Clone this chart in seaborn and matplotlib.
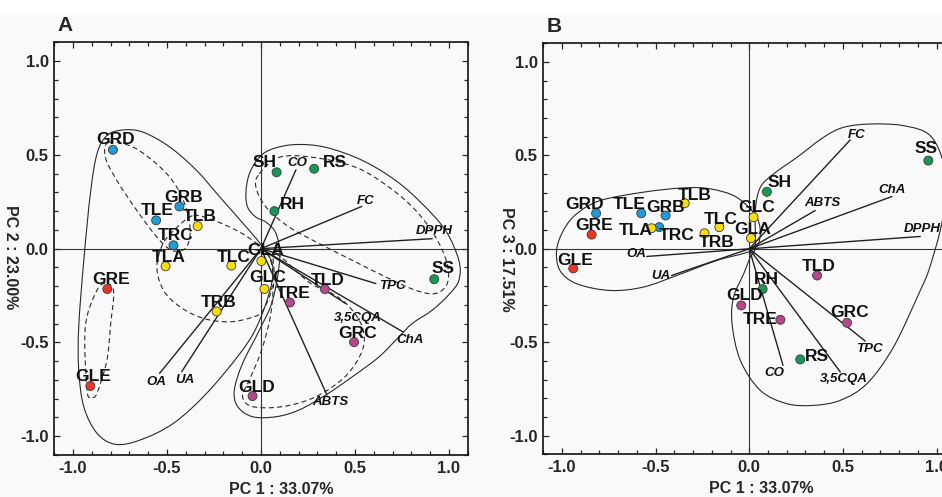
import numpy as np
import pandas as pd
import matplotlib
matplotlib.use('Agg')
import matplotlib.pyplot as plt
import seaborn as sns
from matplotlib.path import Path
from matplotlib.patches import PathPatch, Rectangle
from matplotlib.ticker import MultipleLocator

# ---------------------------------------------
# data
# ---------------------------------------------
samples = ['GRD', 'GRB', 'TLE', 'TLB', 'TRC', 'TLA', 'TLC', 'GLA', 'GRE', 'GLC',
           'TLD', 'TRE', 'TRB', 'GRC', 'GLE', 'GLD', 'SH', 'RS', 'RH', 'SS']
cluster = ['blue', 'blue', 'blue', 'yellow', 'blue', 'yellow', 'yellow', 'yellow', 'red', 'yellow',
           'purple', 'purple', 'yellow', 'purple', 'red', 'purple', 'green', 'green', 'green', 'green']

# panel A : PC1 vs PC2
pc1_a = [-0.788, -0.434, -0.558, -0.337, -0.466, -0.508, -0.158, 0.002, -0.818, 0.018,
         0.340, 0.154, -0.236, 0.495, -0.908, -0.045, 0.083, 0.283, 0.071, 0.922]
pc2_a = [0.527, 0.225, 0.151, 0.120, 0.018, -0.094, -0.090, -0.066, -0.215, -0.215,
         -0.216, -0.287, -0.335, -0.498, -0.732, -0.786, 0.407, 0.426, 0.200, -0.163]

# panel B : PC1 vs PC3
pc1_b = [-0.818, -0.447, -0.577, -0.345, -0.481, -0.522, -0.160, 0.009, -0.842, 0.023,
         0.362, 0.166, -0.239, 0.522, -0.940, -0.043, 0.094, 0.272, 0.071, 0.956]
pc3_b = [0.190, 0.178, 0.190, 0.244, 0.116, 0.110, 0.116, 0.057, 0.076, 0.169,
         -0.143, -0.380, 0.083, -0.396, -0.105, -0.303, 0.305, -0.592, -0.216, 0.472]

# variable loadings
variables = ['CO', 'FC', 'DPPH', 'TPC', '3,5CQA', 'ChA', 'ABTS', 'OA', 'UA']
load1_a = [0.186, 0.536, 0.911, 0.611, 0.451, 0.756, 0.351, -0.540, -0.422]
load2_a = [0.420, 0.225, 0.053, -0.186, -0.293, -0.444, -0.780, -0.665, -0.656]
load1_b = [0.180, 0.539, 0.913, 0.619, 0.486, 0.762, 0.352, -0.548, -0.415]
load3_b = [-0.624, 0.583, 0.066, -0.494, -0.660, 0.280, 0.205, -0.041, -0.143]

# cluster outlines (control points of the hand drawn envelopes)
a_outer_left_x = [-0.731, -0.625, -0.483, -0.342, -0.218, -0.094, -0.005, 0.06, 0.05, -0.023, -0.112,
                  -0.289, -0.466, -0.643, -0.775, -0.873, -0.943, -0.970, -0.970, -0.943, -0.908, -0.873, -0.820]
a_outer_left_y = [0.633, 0.620, 0.540, 0.416, 0.274, 0.133, 0.027, -0.08, -0.215, -0.417, -0.559,
                  -0.771, -0.931, -1.020, -1.043, -0.984, -0.843, -0.647, -0.417, -0.062, 0.293, 0.505, 0.603]
a_outer_right_x = [0.10, 0.08, 0.027, -0.027, -0.071, -0.080, -0.062, -0.009, 0.062, 0.186, 0.345, 0.540,
                   0.717, 0.858, 0.982, 1.053, 1.053, 1.0, 0.911, 0.805, 0.734, 0.628, 0.486, 0.345,
                   0.203, 0.080, -0.045, -0.124, -0.142, -0.098, -0.009, 0.062]
a_outer_right_y = [-0.05, 0.08, 0.141, 0.168, 0.221, 0.300, 0.399, 0.487, 0.532, 0.555, 0.540, 0.470,
                   0.363, 0.239, 0.097, -0.062, -0.169, -0.245, -0.328, -0.399, -0.470, -0.577, -0.683, -0.780,
                   -0.860, -0.896, -0.896, -0.842, -0.754, -0.612, -0.435, -0.275]
a_dash_blue_x = [-0.811, -0.678, -0.536, -0.448, -0.395, -0.377, -0.404, -0.475, -0.554, -0.661, -0.767, -0.828]
a_dash_blue_y = [0.567, 0.540, 0.434, 0.328, 0.204, 0.080, 0.0, -0.009, 0.062, 0.204, 0.363, 0.487]
a_dash_yellow_x = [-0.358, -0.253, -0.130, -0.023, 0.05, 0.06, 0.01, -0.041, -0.165, -0.306, -0.430,
                   -0.519, -0.554, -0.52, -0.44]
a_dash_yellow_y = [0.177, 0.151, 0.097, 0.027, -0.06, -0.2, -0.33, -0.364, -0.390, -0.372, -0.311,
                   -0.222, -0.098, 0.03, 0.12]
a_dash_red_x = [-0.820, -0.784, -0.800, -0.820, -0.873, -0.900, -0.926, -0.935, -0.873]
a_dash_red_y = [-0.186, -0.231, -0.40, -0.594, -0.771, -0.789, -0.754, -0.417, -0.222]
a_dash_green_x = [-0.009, 0.097, 0.274, 0.504, 0.681, 0.823, 0.929, 0.991, 0.991, 0.929, 0.823, 0.664,
                  0.486, 0.310, 0.150, 0.027, -0.027]
a_dash_green_y = [0.399, 0.487, 0.487, 0.434, 0.328, 0.204, 0.062, -0.080, -0.186, -0.239, -0.222, -0.151,
                  -0.062, 0.027, 0.115, 0.221, 0.328]
a_dash_purple_x = [0.08, 0.256, 0.38, 0.47, 0.54, 0.54, 0.45, 0.29, 0.115, -0.045, -0.098, -0.062, 0.0, 0.05, 0.07]
a_dash_purple_y = [-0.03, -0.18, -0.24, -0.31, -0.42, -0.54, -0.68, -0.79, -0.842, -0.842, -0.789, -0.70,
                   -0.55, -0.36, -0.15]
b_outer_left_x = [-1.029, -0.993, -0.922, -0.797, -0.566, -0.352, -0.210, -0.068, 0.039, 0.057, 0.012,
                  -0.175, -0.388, -0.566, -0.744, -0.922, -1.011]
b_outer_left_y = [-0.009, 0.098, 0.187, 0.258, 0.303, 0.326, 0.321, 0.276, 0.169, 0.062, -0.009,
                  -0.063, -0.143, -0.205, -0.223, -0.187, -0.116]
b_outer_right_x = [0.032, 0.032, 0.059, 0.130, 0.255, 0.397, 0.503, 0.646, 0.824, 0.966, 1.04, 1.05, 1.02,
                   0.96, 0.913, 0.770, 0.628, 0.486, 0.343, 0.201, 0.059, -0.048, -0.092, -0.084, -0.030, 0.005]
b_outer_right_y = [0.009, 0.205, 0.329, 0.401, 0.490, 0.597, 0.650, 0.668, 0.659, 0.606, 0.45, 0.28, 0.10,
                   -0.11, -0.223, -0.526, -0.722, -0.811, -0.838, -0.829, -0.758, -0.597, -0.401, -0.259,
                   -0.134, -0.045]

# label offsets (pixels: right, up) for sample and variable names
sample_off_a = {'GRD': (3, 10), 'GRB': (4, 9), 'TLE': (1, 10), 'TLB': (2, 10), 'TRC': (2, 10),
                'TLA': (3, 9), 'TLC': (2, 8), 'GLA': (4, 11), 'GRE': (4, 9), 'GLC': (3, 11),
                'TLD': (3, 9), 'TRE': (3, 9), 'TRB': (2, 9), 'GRC': (4, 9), 'GLE': (3, 9),
                'GLD': (4, 9), 'SH': (-12, 10), 'RS': (21, 6), 'RH': (18, 7), 'SS': (9, 11)}
sample_off_b = {'GRD': (-12, 9), 'GRB': (0, 8), 'TLE': (-12, 9), 'TLB': (10, 8), 'TRC': (17, -8),
                'TLA': (-16, -2), 'TLC': (1, 8), 'GLA': (2, 9), 'GRE': (2, 9), 'GLC': (3, 10),
                'TLD': (2, 9), 'TRE': (-20, 0), 'TRB': (12, -9), 'GRC': (3, 10), 'GLE': (2, 8),
                'GLD': (3, 10), 'SH': (13, 9), 'RS': (17, 3), 'RH': (4, 10), 'SS': (-2, 12)}
var_off_a = {'CO': (1, 7), 'FC': (4, 5), 'DPPH': (2, 8), 'TPC': (17, -2), '3,5CQA': (12, -14),
             'ChA': (7, -8), 'ABTS': (3, -7), 'OA': (-3, -9), 'UA': (3, -8)}
var_off_b = {'CO': (-9, -8), 'FC': (6, 5), 'DPPH': (2, 7), 'TPC': (4, -8), '3,5CQA': (4, -7),
             'ChA': (0, 6), 'ABTS': (7, 8), 'OA': (-10, 2), 'UA': (-11, 0)}

palette = {'blue': '#1f9bd6', 'yellow': '#fbdc0c', 'red': '#ee3524',
           'green': '#149a55', 'purple': '#b8468c'}
BG = '#f9f9f9'

sns.set_style('ticks')
plt.rcParams['font.family'] = ['Liberation Sans', 'DejaVu Sans']
plt.rcParams['font.weight'] = 'bold'


def outline(ax, xs, ys, dashed=False):
    # closed smooth curve through the control points (Catmull-Rom as cubic Bezier)
    pts = np.column_stack([xs, ys])
    n = len(pts)
    verts = [pts[0]]
    codes = [Path.MOVETO]
    for i in range(n):
        p0, p1, p2, p3 = pts[i - 1], pts[i], pts[(i + 1) % n], pts[(i + 2) % n]
        verts += [p1 + (p2 - p0) / 6, p2 - (p3 - p1) / 6, p2]
        codes += [Path.CURVE4] * 3
    ls = (0, (4.5, 3)) if dashed else '-'
    ax.add_patch(PathPatch(Path(verts, codes), facecolor='none', edgecolor='#2a2a2a',
                           lw=0.8, linestyle=ls, zorder=2))


def biplot(ax, xs, ys, sample_off, lx, ly, var_off, xlabel, ylabel, panel, xlab_pos):
    ax.set_facecolor(BG)
    ax.axhline(0, color='#333333', lw=0.8, zorder=1)
    ax.axvline(0, color='#333333', lw=0.8, zorder=1)

    # loadings
    for name, vx, vy in zip(variables, lx, ly):
        ax.plot([0, vx], [0, vy], color='#222222', lw=1.0, zorder=3)
        dx, dy = var_off[name]
        ax.annotate(name, (vx, vy), xytext=(dx * 0.72, dy * 0.72), textcoords='offset points',
                    ha='center', va='center', fontsize=9.5, fontstyle='italic',
                    fontweight='bold', color='#111111', zorder=6)

    # scores
    df = pd.DataFrame({'x': xs, 'y': ys, 'cluster': cluster, 'sample': samples})
    sns.scatterplot(data=df, x='x', y='y', hue='cluster', palette=palette, s=42,
                    edgecolor='#3a3a3a', linewidth=0.6, legend=False, ax=ax, zorder=5)
    for _, r in df.iterrows():
        dx, dy = sample_off[r['sample']]
        ax.annotate(r['sample'], (r['x'], r['y']), xytext=(dx * 0.72, dy * 0.72),
                    textcoords='offset points', ha='center', va='center',
                    fontsize=12.5, fontweight='bold', color='#111111', zorder=6)

    ax.set_xlim(-1.1, 1.1)
    ax.set_ylim(-1.1, 1.1)
    ax.xaxis.set_minor_locator(MultipleLocator(0.1))
    ax.yaxis.set_minor_locator(MultipleLocator(0.1))
    ax.set_xticks([-1.0, -0.5, 0.0, 0.5, 1.0])
    ax.set_yticks([-1.0, -0.5, 0.0, 0.5, 1.0])
    ax.set_xticklabels(['-1.0', '-0.5', '0.0', '0.5', '1.0'])
    ax.set_yticklabels(['-1.0', '-0.5', '0.0', '0.5', '1.0'])
    ax.tick_params(which='both', direction='in', top=True, right=True, width=0.9,
                   labelsize=12, pad=4)
    ax.tick_params(which='major', length=4)
    ax.tick_params(which='minor', length=3)
    for lab in ax.get_xticklabels() + ax.get_yticklabels():
        lab.set_fontweight('bold')
    for sp in ax.spines.values():
        sp.set_linewidth(1.2)
        sp.set_color('#111111')

    ax.set_xlabel(xlabel, fontsize=11.5, fontweight='bold')
    ax.set_ylabel(ylabel, fontsize=11.5, fontweight='bold', rotation=270, va='center')
    ax.xaxis.set_label_coords(xlab_pos, -0.066)
    ax.text(0.008, 1.027, panel, transform=ax.transAxes, fontsize=15, fontweight='bold',
            ha='left', va='baseline')


fig = plt.figure(figsize=(9.42, 4.97), dpi=100, facecolor=BG)
fig.add_artist(Rectangle((0, 1 - 15 / 497), 1, 15 / 497, transform=fig.transFigure,
                         facecolor='white', edgecolor='none', zorder=-1))

ax_a = fig.add_axes([54.3 / 942, 1 - 455 / 497, 413.4 / 942, 412.7 / 497])
ax_b = fig.add_axes([543.3 / 942, 1 - 454.3 / 497, 412 / 942, 411 / 497])

outline(ax_a, a_outer_left_x, a_outer_left_y)
outline(ax_a, a_outer_right_x, a_outer_right_y)
outline(ax_a, a_dash_blue_x, a_dash_blue_y, dashed=True)
outline(ax_a, a_dash_yellow_x, a_dash_yellow_y, dashed=True)
outline(ax_a, a_dash_red_x, a_dash_red_y, dashed=True)
outline(ax_a, a_dash_green_x, a_dash_green_y, dashed=True)
outline(ax_a, a_dash_purple_x, a_dash_purple_y, dashed=True)
biplot(ax_a, pc1_a, pc2_a, sample_off_a, load1_a, load2_a, var_off_a,
       'PC 1 : 33.07%', 'PC 2 : 23.00%', 'A', 0.548)
ax_a.yaxis.set_label_coords(-0.105, 0.48)

outline(ax_b, b_outer_left_x, b_outer_left_y)
outline(ax_b, b_outer_right_x, b_outer_right_y)
biplot(ax_b, pc1_b, pc3_b, sample_off_b, load1_b, load3_b, var_off_b,
       'PC 1 : 33.07%', 'PC 3 : 17.51%', 'B', 0.528)
ax_b.yaxis.set_label_coords(-0.09, 0.475)

fig.savefig('out.png', dpi=100, facecolor=BG)
